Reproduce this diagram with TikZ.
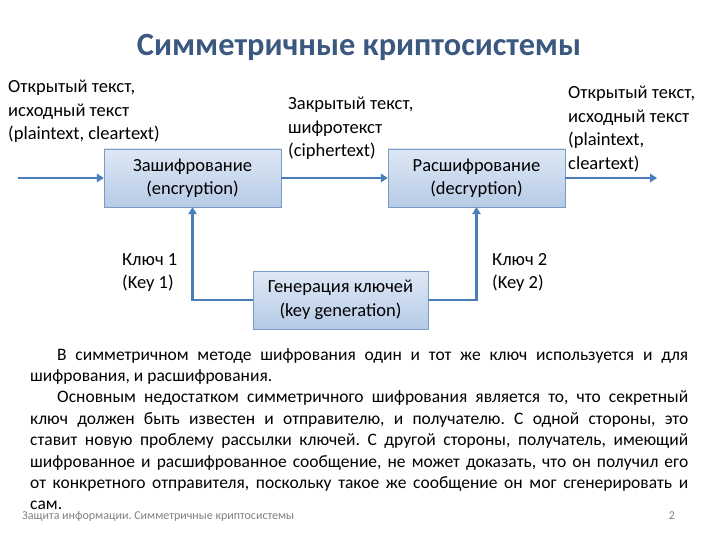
\documentclass[tikz,border=0pt]{standalone}
\usepackage{fontspec}
\setmainfont{Carlito}
\usetikzlibrary{arrows.meta}

\definecolor{flowblue}{RGB}{74,126,187}
\definecolor{boxtop}{RGB}{222,232,245}
\definecolor{boxbottom}{RGB}{182,203,230}
\definecolor{boxline}{RGB}{120,155,200}
\definecolor{titleblue}{RGB}{59,89,128}

\newcommand{\diagfont}{\fontsize{18.5}{23.5}\selectfont}
\newcommand{\bodyfont}{\fontsize{17.5}{21.4}\selectfont}

\tikzset{
  procbox/.style={draw=boxline, top color=boxtop, bottom color=boxbottom,
    minimum width=177pt, minimum height=58pt, inner sep=0pt,
    align=center, font=\diagfont},
  flow/.style={draw=flowblue, line width=2.6pt,
    -{Triangle[length=7pt,width=8.5pt]}},
  lbl/.style={anchor=base west, align=left, inner sep=0pt, font=\diagfont}
}

\begin{document}
\frenchspacing
\begin{tikzpicture}[x=1pt,y=-1pt]
  \useasboundingbox (0,0) rectangle (720,540);
  % title
  \node[anchor=base, inner sep=0pt, text=titleblue,
        font=\fontsize{32.4}{38}\selectfont\bfseries] (title) at (359,56)
        {Симметричные криптосистемы};
  % blocks
  \node[procbox] (enc) at (192.5,178) {Зашифрование\\(encryption)};
  \node[procbox] (dec) at (476.5,178) {Расшифрование\\(decryption)};
  \node[procbox, minimum width=175pt] (gen) at (340.5,300)
        {Генерация ключей\\(key generation)};
  \coordinate (in) at (18,178);
  \coordinate (out) at (657,178);
  \draw[flow] (in) -- (enc);
  \draw[flow] (enc) -- (dec);
  \draw[flow] (dec) -- (out);
  \draw[flow] (gen.west) -| (enc.south);
  \draw[flow] (gen.east) -| (dec.south);
  % labels (anchored at the last line)
  \node[lbl] (plainin) at (8,140) {Открытый текст,\\исходный текст\\(plaintext, cleartext)};
  \node[lbl] (cipher) at (288,157) {Закрытый текст,\\шифротекст\\(ciphertext)};
  \node[lbl] (plainout) at (568,169.5) {Открытый текст,\\исходный текст\\(plaintext,\\cleartext)};
  \foreach \k/\x in {1/122,2/492}
    \node[lbl] (key\k) at (\x,288.5) {Ключ \k\\(Key \k)};
  % text below
  \node[anchor=base west, inner sep=0pt, text width=658pt, align=justify,
        font=\bodyfont] (body) at (30,360)
   {\hspace*{27pt}В симметричном методе шифрования один и тот же ключ используется и для\linebreak
    шифрования, и расшифрования.\par
    \hspace*{27pt}Основным недостатком симметричного шифрования является то, что секретный\linebreak
    ключ должен быть известен и отправителю, и получателю. С одной стороны, это\linebreak
    ставит новую проблему рассылки ключей. С другой стороны, получатель, имеющий\linebreak
    шифрованное и расшифрованное сообщение, не может доказать, что он получил его\linebreak
    от конкретного отправителя, поскольку такое же сообщение он мог сгенерировать и\linebreak
    сам.};
  % footer
  \node[anchor=base west, inner sep=0pt, text=black!50, font=\fontsize{12}{14}\selectfont]
        (foot) at (22,519) {Защита информации. Симметричные криптосистемы};
  \node[anchor=base, inner sep=0pt, text=black!50, font=\fontsize{12}{14}\selectfont]
        (page) at (672,519) {2};
\end{tikzpicture}
\end{document}
